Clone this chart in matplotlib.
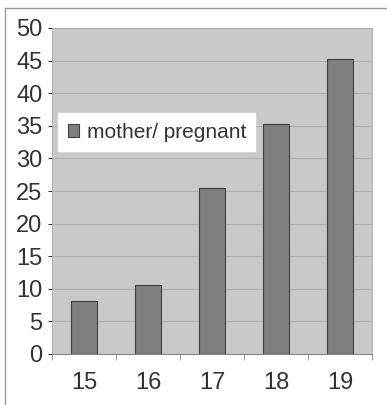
import matplotlib.pyplot as plt
import matplotlib

matplotlib.rcParams['font.family'] = 'Liberation Sans'

ages = ["15", "16", "17", "18", "19"]
values = [8.1, 10.6, 25.4, 35.3, 45.3]
series_name = "mother/ pregnant"

fig = plt.figure(figsize=(3.87, 4.05), dpi=100)
ax = fig.add_axes([52 / 387, 51 / 405, 320 / 387, 326 / 405])

x = list(range(len(ages)))
ax.bar(x, values, width=0.42, color='#7f7f7f', edgecolor='#404040',
       linewidth=0.8, label=series_name, zorder=3)

ax.set_facecolor('#c9c9c9')
ax.set_xlim(-0.5, len(ages) - 0.5)
ax.set_ylim(0, 50)
ax.set_yticks(range(0, 51, 5))
ax.set_xticks(x)
ax.set_xticklabels(ages)
ax.set_xticks([i - 0.5 for i in range(len(ages) + 1)], minor=True)
ax.tick_params(axis='x', which='major', length=0, labelsize=17, pad=13, colors='#333333')
ax.tick_params(axis='x', which='minor', length=4, color='#888888')
ax.tick_params(axis='y', length=3, labelsize=17, colors='#333333', pad=4)
ax.grid(True, axis='y', color='#b0b0b0', linewidth=0.8, zorder=0)

for side in ['top', 'right', 'left']:
    ax.spines[side].set_color('#aaaaaa')
    ax.spines[side].set_linewidth(0.6)
ax.spines['bottom'].set_color('#888888')

leg = ax.legend(loc='center left', bbox_to_anchor=(0.02, 0.68), fontsize=15,
                frameon=True, fancybox=False, handlelength=0.55, handleheight=0.6,
                handletextpad=0.35, borderpad=0.45, borderaxespad=0,
                labelcolor='#333333')
leg.get_frame().set_facecolor('white')
leg.get_frame().set_edgecolor('white')
leg.get_frame().set_alpha(1)

# scanned page border
fig.add_artist(plt.Line2D([5 / 387, 5 / 387], [0, 1 - 8 / 405], color='#999999', lw=1))
fig.add_artist(plt.Line2D([5 / 387, 1], [1 - 8 / 405, 1 - 8 / 405], color='#999999', lw=1))

fig.savefig('out.png', dpi=100)
